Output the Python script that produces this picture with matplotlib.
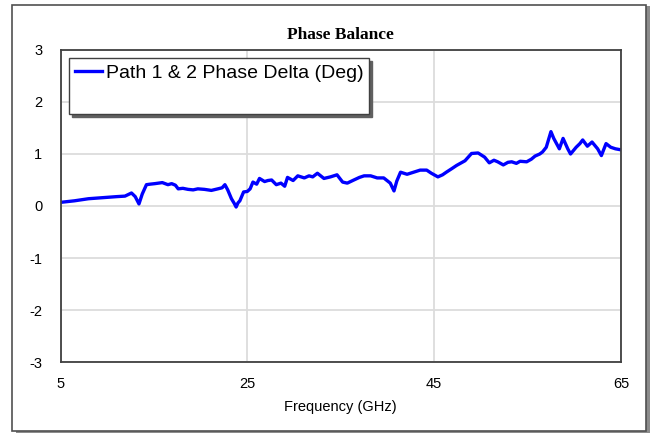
# Phase balance between path 1 and path 2

import numpy as np
import matplotlib.pyplot as plt
from matplotlib.patches import Rectangle
from matplotlib.lines import Line2D

plt.rcParams['font.family'] = ['Liberation Sans', 'DejaVu Sans']
plt.rcParams['axes.unicode_minus'] = False

# frequency (GHz) and phase delta (deg)
freq = [5.0, 6.5, 8.0, 9.5, 11.0, 11.9, 12.6, 13.0, 13.4, 13.75, 14.2, 14.6,
        15.1, 15.5, 15.9, 16.5, 16.9, 17.3, 17.6, 18.1, 18.65, 19.2, 19.7,
        20.4, 21.15, 21.85, 22.3, 22.6, 22.9, 23.3, 23.6, 23.8, 24.0, 24.2,
        24.6, 25.0, 25.3, 25.6, 26.0, 26.3, 26.85, 27.2, 27.6, 28.1, 28.6,
        29.0, 29.3, 29.9, 30.4, 31.1, 31.6, 32.0, 32.5, 33.2, 33.9, 34.6,
        35.2, 35.7, 36.4, 37.0, 37.5, 38.2, 38.9, 39.6, 40.3, 40.7, 41.0,
        41.4, 42.1, 42.8, 43.5, 44.2, 44.7, 45.4, 45.9, 46.3, 46.9, 47.4,
        48.3, 49.0, 49.7, 50.4, 50.9, 51.4, 51.8, 52.4, 52.9, 53.3, 53.8,
        54.2, 54.9, 55.4, 55.8, 56.3, 56.6, 57.0, 57.5, 57.8, 58.1, 58.4,
        58.8, 59.3, 59.6, 60.2, 60.6, 60.9, 61.4, 61.9, 62.5, 62.9, 63.4,
        63.9, 64.4, 65.0]
phase = [0.07, 0.10, 0.14, 0.16, 0.18, 0.19, 0.25, 0.18, 0.04, 0.23, 0.41, 0.42,
         0.43, 0.44, 0.45, 0.41, 0.43, 0.40, 0.33, 0.34, 0.32, 0.31, 0.33,
         0.32, 0.30, 0.33, 0.35, 0.41, 0.31, 0.14, 0.05, -0.02, 0.06, 0.10,
         0.27, 0.28, 0.33, 0.46, 0.42, 0.53, 0.47, 0.49, 0.50, 0.41, 0.44,
         0.38, 0.55, 0.49, 0.58, 0.54, 0.58, 0.56, 0.63, 0.53, 0.56, 0.60,
         0.46, 0.44, 0.50, 0.55, 0.58, 0.58, 0.54, 0.54, 0.44, 0.29, 0.48,
         0.65, 0.61, 0.65, 0.69, 0.69, 0.63, 0.56, 0.60, 0.65, 0.72, 0.78,
         0.87, 1.01, 1.02, 0.94, 0.83, 0.88, 0.85, 0.79, 0.84, 0.85, 0.82,
         0.86, 0.85, 0.90, 0.96, 1.00, 1.04, 1.13, 1.43, 1.30, 1.20, 1.10,
         1.30, 1.10, 1.00, 1.13, 1.20, 1.27, 1.15, 1.23, 1.10, 0.97, 1.20,
         1.13, 1.10, 1.08]

x_ticks = [5, 25, 45, 65]
y_ticks = [-3, -2, -1, 0, 1, 2, 3]

fig = plt.figure(figsize=(6.55, 4.33), dpi=100)
W, H = 655, 433

# outer frame with drop shadow
fig.patches.append(Rectangle((16 / W, -4 / H), 634 / W, 431 / H, transform=fig.transFigure,
                             facecolor='#8c8c8c', edgecolor='none', zorder=0))
fig.patches.append(Rectangle((12 / W, 2 / H), 634 / W, 426 / H, transform=fig.transFigure,
                             facecolor='white', edgecolor='#505050', lw=1.2, zorder=1))

ax = fig.add_axes([60.5 / W, (H - 362) / H, 560.5 / W, 312 / H])
ax.set_zorder(2)
ax.plot(freq, phase, color='#0000ff', lw=2.4, label='Path 1 & 2 Phase Delta (Deg)')

ax.set_xlim(5, 65)
ax.set_ylim(-3, 3)
ax.set_xticks(x_ticks)
ax.set_yticks(y_ticks)
ax.tick_params(length=0, labelsize=10.5, colors='black')
ax.tick_params(axis='x', pad=11)
ax.tick_params(axis='y', pad=13)
ax.grid(True, color='#dcdcdc', lw=1.3)
ax.set_axisbelow(True)
for s in ax.spines.values():
    s.set_color('#404040')
    s.set_linewidth(1.3)

ax.set_xlabel('Frequency (GHz)', fontsize=10.5, labelpad=6)
ax.set_title('Phase Balance', fontsize=12.5, fontweight='bold',
             family=['Liberation Serif', 'DejaVu Serif'], pad=8)

blank = Line2D([], [], color='none')
handles = [ax.get_lines()[0], blank]
leg = ax.legend(handles, ['Path 1 & 2 Phase Delta (Deg)', ' '],
                loc='upper left', bbox_to_anchor=(0.0152, 0.974), borderaxespad=0,
                fontsize=14, frameon=True, fancybox=False, handlelength=1.4,
                handletextpad=0.18, borderpad=0.3, labelspacing=0.48,
                shadow={'color': '#606060', 'alpha': 1})
leg.get_frame().set_edgecolor('#404040')
leg.get_frame().set_linewidth(1.0)

fig.savefig('out.png', dpi=100)
